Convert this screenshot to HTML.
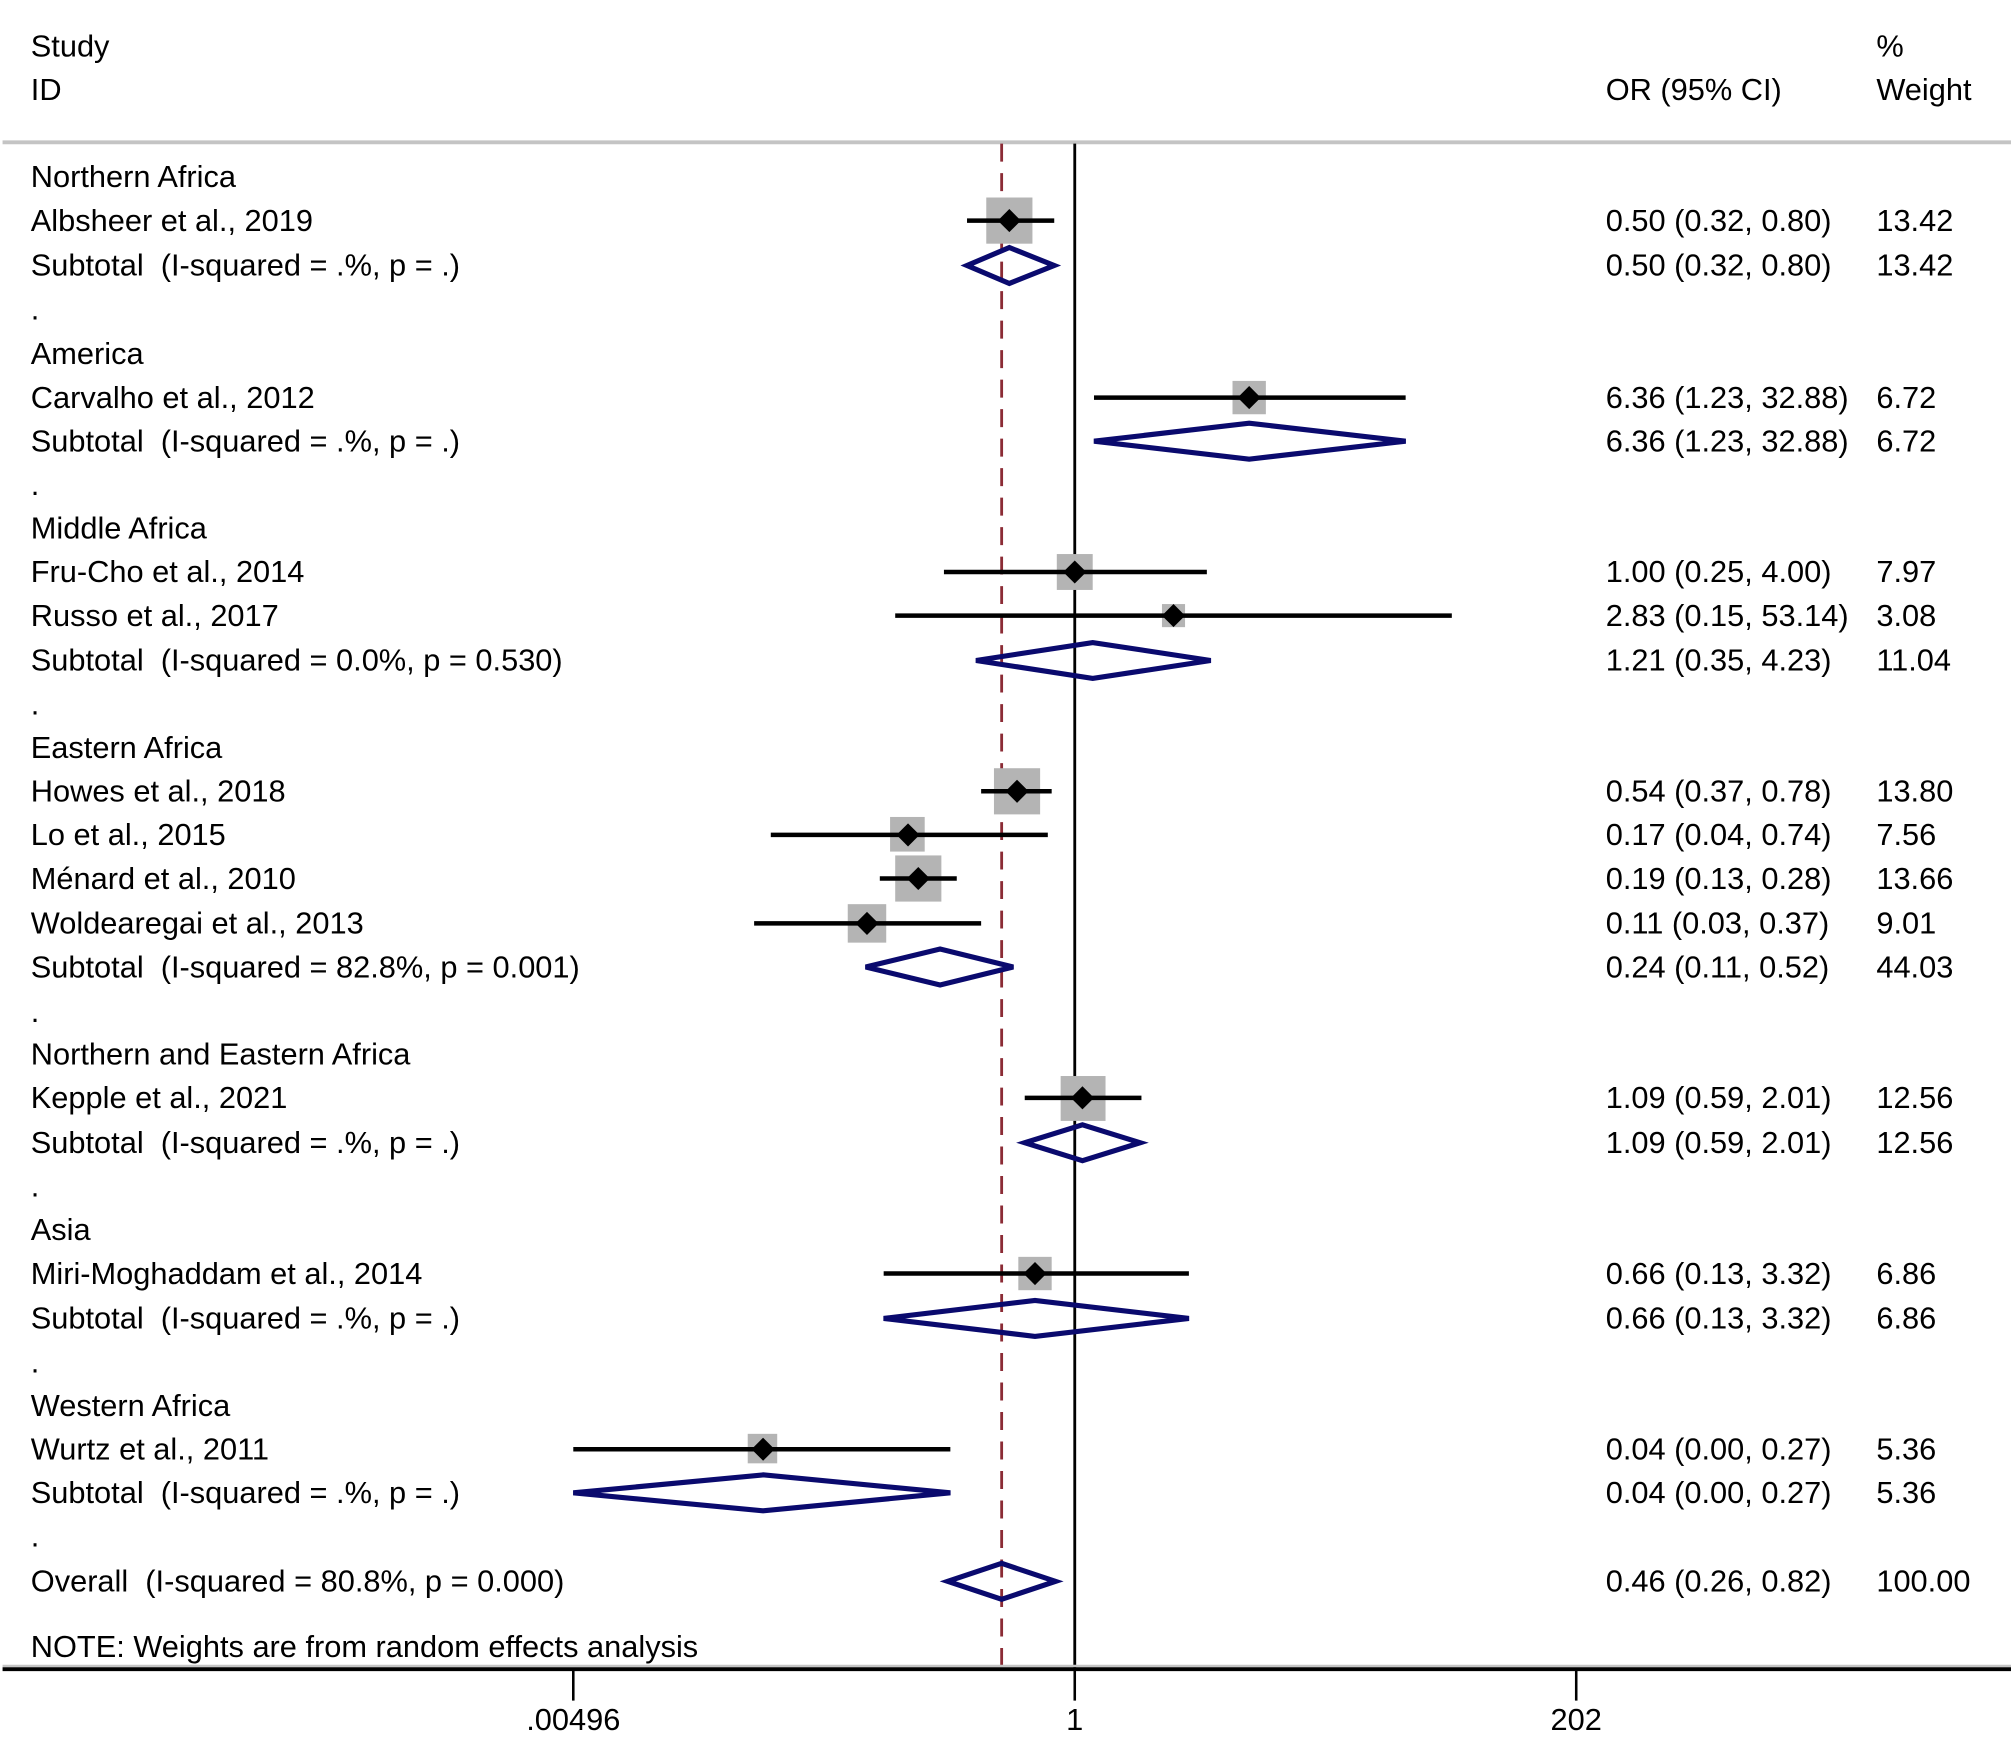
<!DOCTYPE html>
<html><head><meta charset="utf-8"><style>
html,body{margin:0;padding:0;background:#fff;}
svg{display:block;}
text{font-family:"Liberation Sans",Arial,sans-serif;font-size:24px;fill:#000;white-space:pre;}
.ci{stroke:#000;stroke-width:3.5;}
.sq{fill:#b4b4b4;}
.dm{fill:none;stroke:#0a0a6e;stroke-width:4;stroke-linejoin:miter;}
</style></head><body>
<svg width="2011" height="1741" viewBox="0 0 1568 1357.5" preserveAspectRatio="none" xmlns="http://www.w3.org/2000/svg" xml:space="preserve">
<rect width="1568" height="1357.5" fill="#fff"/>
<text x="24" y="44">Study</text>
<text x="1463" y="44">%</text>
<text x="24" y="78">ID</text>
<text x="1252" y="78">OR (95% CI)</text>
<text x="1463" y="78">Weight</text>
<line x1="2" y1="111" x2="1568" y2="111" stroke="#c4c4c4" stroke-width="3"/>
<line x1="838" y1="112" x2="838" y2="1301" stroke="#000" stroke-width="2.2"/>
<line x1="781" y1="112" x2="781" y2="1301" stroke="#8b2b35" stroke-width="2.2" stroke-dasharray="14,9"/>
<rect class="sq" x="769" y="154" width="36" height="36"/>
<rect class="sq" x="961" y="297" width="26" height="26"/>
<rect class="sq" x="824" y="432" width="28" height="28"/>
<rect class="sq" x="906" y="471" width="18" height="18"/>
<rect class="sq" x="775" y="599" width="36" height="36"/>
<rect class="sq" x="694" y="637" width="27" height="27"/>
<rect class="sq" x="698" y="667" width="36" height="36"/>
<rect class="sq" x="661" y="705" width="30" height="30"/>
<rect class="sq" x="827" y="839" width="35" height="35"/>
<rect class="sq" x="794" y="980" width="26" height="26"/>
<rect class="sq" x="583" y="1118" width="23" height="23"/>
<line class="ci" x1="754" y1="172" x2="822" y2="172"/>
<line class="ci" x1="853" y1="310" x2="1096" y2="310"/>
<line class="ci" x1="736" y1="446" x2="941" y2="446"/>
<line class="ci" x1="698" y1="480" x2="1132" y2="480"/>
<line class="ci" x1="765" y1="617" x2="820" y2="617"/>
<line class="ci" x1="601" y1="651" x2="817" y2="651"/>
<line class="ci" x1="686" y1="685" x2="746" y2="685"/>
<line class="ci" x1="588" y1="720" x2="765" y2="720"/>
<line class="ci" x1="799" y1="856" x2="890" y2="856"/>
<line class="ci" x1="689" y1="993" x2="927" y2="993"/>
<line class="ci" x1="447" y1="1130" x2="741" y2="1130"/>
<g fill="#000">
<path d="M787 163 L796 172 L787 181 L778 172Z"/>
<path d="M974 301 L983 310 L974 319 L965 310Z"/>
<path d="M838 437 L847 446 L838 455 L829 446Z"/>
<path d="M915 471 L924 480 L915 489 L906 480Z"/>
<path d="M793 608 L802 617 L793 626 L784 617Z"/>
<path d="M708 642 L717 651 L708 660 L699 651Z"/>
<path d="M716 676 L725 685 L716 694 L707 685Z"/>
<path d="M676 711 L685 720 L676 729 L667 720Z"/>
<path d="M844 847 L853 856 L844 865 L835 856Z"/>
<path d="M807 984 L816 993 L807 1002 L798 993Z"/>
<path d="M595 1121 L604 1130 L595 1139 L586 1130Z"/>
</g>
<path class="dm" d="M754 207 L787 193 L822 207 L787 221Z"/>
<path class="dm" d="M853 344 L974 330 L1096 344 L974 358Z"/>
<path class="dm" d="M761 515 L852 501 L944 515 L852 529Z"/>
<path class="dm" d="M675 754 L733 740 L790 754 L733 768Z"/>
<path class="dm" d="M799 891 L844 877 L889 891 L844 905Z"/>
<path class="dm" d="M689 1028 L807 1014 L927 1028 L807 1042Z"/>
<path class="dm" d="M447 1164 L595 1150 L741 1164 L595 1178Z"/>
<path class="dm" d="M739 1233 L781 1219 L823 1233 L781 1247Z"/>
<text x="24" y="146">Northern Africa</text>
<text x="24" y="180">Albsheer et al., 2019</text>
<text x="24" y="215">Subtotal  (I-squared = .%, p = .)</text>
<text x="24" y="249">.</text>
<text x="24" y="284">America</text>
<text x="24" y="318">Carvalho et al., 2012</text>
<text x="24" y="352">Subtotal  (I-squared = .%, p = .)</text>
<text x="24" y="386">.</text>
<text x="24" y="420">Middle Africa</text>
<text x="24" y="454">Fru-Cho et al., 2014</text>
<text x="24" y="488">Russo et al., 2017</text>
<text x="24" y="523">Subtotal  (I-squared = 0.0%, p = 0.530)</text>
<text x="24" y="557">.</text>
<text x="24" y="591">Eastern Africa</text>
<text x="24" y="625">Howes et al., 2018</text>
<text x="24" y="659">Lo et al., 2015</text>
<text x="24" y="693">Ménard et al., 2010</text>
<text x="24" y="728">Woldearegai et al., 2013</text>
<text x="24" y="762">Subtotal  (I-squared = 82.8%, p = 0.001)</text>
<text x="24" y="797">.</text>
<text x="24" y="830">Northern and Eastern Africa</text>
<text x="24" y="864">Kepple et al., 2021</text>
<text x="24" y="899">Subtotal  (I-squared = .%, p = .)</text>
<text x="24" y="933">.</text>
<text x="24" y="967">Asia</text>
<text x="24" y="1001">Miri-Moghaddam et al., 2014</text>
<text x="24" y="1036">Subtotal  (I-squared = .%, p = .)</text>
<text x="24" y="1070">.</text>
<text x="24" y="1104">Western Africa</text>
<text x="24" y="1138">Wurtz et al., 2011</text>
<text x="24" y="1172">Subtotal  (I-squared = .%, p = .)</text>
<text x="24" y="1206">.</text>
<text x="24" y="1241">Overall  (I-squared = 80.8%, p = 0.000)</text>
<text x="24" y="1292">NOTE: Weights are from random effects analysis</text>
<g>
<text x="1252" y="180">0.50 (0.32, 0.80)</text><text x="1463" y="180">13.42</text>
<text x="1252" y="215">0.50 (0.32, 0.80)</text><text x="1463" y="215">13.42</text>
<text x="1252" y="318">6.36 (1.23, 32.88)</text><text x="1463" y="318">6.72</text>
<text x="1252" y="352">6.36 (1.23, 32.88)</text><text x="1463" y="352">6.72</text>
<text x="1252" y="454">1.00 (0.25, 4.00)</text><text x="1463" y="454">7.97</text>
<text x="1252" y="488">2.83 (0.15, 53.14)</text><text x="1463" y="488">3.08</text>
<text x="1252" y="523">1.21 (0.35, 4.23)</text><text x="1463" y="523">11.04</text>
<text x="1252" y="625">0.54 (0.37, 0.78)</text><text x="1463" y="625">13.80</text>
<text x="1252" y="659">0.17 (0.04, 0.74)</text><text x="1463" y="659">7.56</text>
<text x="1252" y="693">0.19 (0.13, 0.28)</text><text x="1463" y="693">13.66</text>
<text x="1252" y="728">0.11 (0.03, 0.37)</text><text x="1463" y="728">9.01</text>
<text x="1252" y="762">0.24 (0.11, 0.52)</text><text x="1463" y="762">44.03</text>
<text x="1252" y="864">1.09 (0.59, 2.01)</text><text x="1463" y="864">12.56</text>
<text x="1252" y="899">1.09 (0.59, 2.01)</text><text x="1463" y="899">12.56</text>
<text x="1252" y="1001">0.66 (0.13, 3.32)</text><text x="1463" y="1001">6.86</text>
<text x="1252" y="1036">0.66 (0.13, 3.32)</text><text x="1463" y="1036">6.86</text>
<text x="1252" y="1138">0.04 (0.00, 0.27)</text><text x="1463" y="1138">5.36</text>
<text x="1252" y="1172">0.04 (0.00, 0.27)</text><text x="1463" y="1172">5.36</text>
<text x="1252" y="1241">0.46 (0.26, 0.82)</text><text x="1463" y="1241">100.00</text>
</g>
<line x1="2" y1="1299" x2="1568" y2="1299" stroke="#c4c4c4" stroke-width="2"/>
<line x1="2" y1="1301.5" x2="1568" y2="1301.5" stroke="#000" stroke-width="3"/>
<line x1="447" y1="1301" x2="447" y2="1326" stroke="#000" stroke-width="2"/>
<line x1="838" y1="1301" x2="838" y2="1326" stroke="#000" stroke-width="2"/>
<line x1="1229" y1="1301" x2="1229" y2="1326" stroke="#000" stroke-width="2"/>
<text x="447" y="1349" text-anchor="middle">.00496</text>
<text x="838" y="1349" text-anchor="middle">1</text>
<text x="1229" y="1349" text-anchor="middle">202</text>
</svg>
</body></html>
